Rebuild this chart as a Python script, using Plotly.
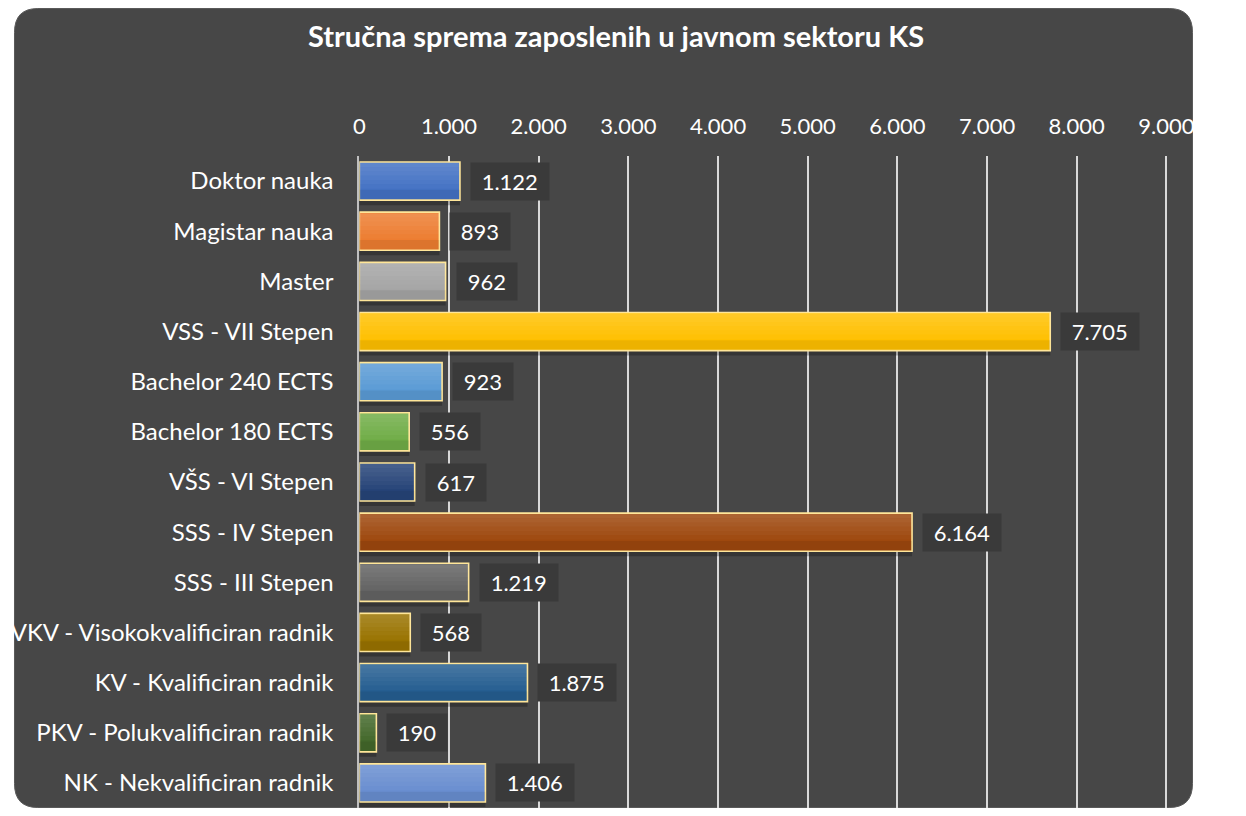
import plotly.graph_objects as go

categories = [
    "Doktor nauka", "Magistar nauka", "Master", "VSS - VII Stepen",
    "Bachelor 240 ECTS", "Bachelor 180 ECTS", "VŠS - VI Stepen",
    "SSS - IV Stepen", "SSS - III Stepen", "VKV - Visokokvalificiran radnik",
    "KV - Kvalificiran radnik", "PKV - Polukvalificiran radnik", "NK - Nekvalificiran radnik",
]
values = [1122, 893, 962, 7705, 923, 556, 617, 6164, 1219, 568, 1875, 190, 1406]
bar_colors = [
    "#4472C4", "#ED7D31", "#A5A5A5", "#FFC000", "#5B9BD5", "#70AD47", "#264478",
    "#9E480E", "#636363", "#997300", "#255E91", "#43682B", "#698ED0",
]
tick_vals = [0, 1000, 2000, 3000, 4000, 5000, 6000, 7000, 8000, 9000]
title_text = "Stručna sprema zaposlenih u javnom sektoru KS"

FONT = "Lato, 'Noto Sans', sans-serif"
BG = "#474747"
# page body has an 8px margin; leave horizontal slack so the page never scrolls
W, H = 1212, 800
OFF = 8
BW = 0.76


def px(x):
    return (x - OFF) / W


def py(y):
    return 1 - (y - OFF) / H


fig = go.Figure()

# shadow
fig.add_trace(go.Bar(
    x=values, y=categories, orientation="h", width=BW, offset=-BW / 2 + 0.1,
    marker=dict(color="rgba(0,0,0,0.25)", line=dict(width=0)),
    hoverinfo="skip", showlegend=False,
))
# main bars
fig.add_trace(go.Bar(
    x=values, y=categories, orientation="h", width=BW, offset=-BW / 2,
    marker=dict(color=bar_colors, line=dict(color="#FFE699", width=1.6)),
    showlegend=False,
))
# gradient highlight strips (top lighter)
strips = 6
sw = BW / (strips * 1.5)
for i in range(strips):
    alpha = 0.15 * (1 - i / strips)
    fig.add_trace(go.Bar(
        x=values, y=categories, orientation="h", width=sw,
        offset=-BW / 2 + 0.02 + i * sw,
        marker=dict(color=f"rgba(255,255,255,{alpha:.3f})", line=dict(width=0)),
        hoverinfo="skip", showlegend=False,
    ))
# darker bottom strip
fig.add_trace(go.Bar(
    x=values, y=categories, orientation="h", width=BW * 0.25,
    offset=BW / 2 - BW * 0.25 - 0.015,
    marker=dict(color="rgba(0,0,0,0.07)", line=dict(width=0)),
    hoverinfo="skip", showlegend=False,
))

# value labels
for c, v in zip(categories, values):
    label = f"{v:,}".replace(",", ".")
    fig.add_annotation(
        x=v, y=c, xref="x", yref="y", text=f"\u00a0{label}\u00a0",
        showarrow=False, xanchor="left", xshift=10,
        font=dict(family=FONT, size=22, color="white"),
        bgcolor="#3A3A3A", borderpad=5,
    )

# rounded background box (page pixel coords, kept inside the figure)
bx0, bx1, by0, by1, r = 8.5, OFF + W - 0.5, 8.5, OFF + H - 0.5, 24
path = (
    f"M {px(bx0 + r)},{py(by0)} L {px(bx1 - r)},{py(by0)} "
    f"Q {px(bx1)},{py(by0)} {px(bx1)},{py(by0 + r)} "
    f"L {px(bx1)},{py(by1 - r)} Q {px(bx1)},{py(by1)} {px(bx1 - r)},{py(by1)} "
    f"L {px(bx0 + r)},{py(by1)} Q {px(bx0)},{py(by1)} {px(bx0)},{py(by1 - r)} "
    f"L {px(bx0)},{py(by0 + r)} Q {px(bx0)},{py(by0)} {px(bx0 + r)},{py(by0)} Z"
)

fig.update_layout(
    width=W, height=H,
    margin=dict(l=0, r=0, t=0, b=0),
    paper_bgcolor="white", plot_bgcolor="rgba(0,0,0,0)",
    barmode="overlay", separators=",.",
    font=dict(family=FONT, size=21, color="white"),
    title=dict(text=f"<b>{title_text}</b>", x=px(616), xanchor="center", y=py(37),
               yanchor="middle", font=dict(family=FONT, size=29, color="white")),
    xaxis=dict(
        domain=[px(363), px(1194)], range=[0, 9015], side="top", tickvals=tick_vals,
        tickformat=",d", showgrid=True, gridcolor="#D9D9D9", gridwidth=2,
        zeroline=False, showline=False, ticks="", ticklabelstandoff=17,
        ticklabeloverflow="allow",
        tickfont=dict(family=FONT, size=22, color="white"), fixedrange=True,
    ),
    yaxis=dict(
        domain=[0, py(156)], autorange="reversed", showgrid=False,
        showline=True, linecolor="#BFBFBF", linewidth=2, ticks="",
        ticklabelstandoff=19, tickfont=dict(family=FONT, size=24, color="white"),
        fixedrange=True,
    ),
    shapes=[
        dict(type="path", xref="paper", yref="paper", layer="below",
             path=path, fillcolor=BG, line=dict(color="#5a5a5a", width=1)),
    ],
)

fig.write_html("out.html")
